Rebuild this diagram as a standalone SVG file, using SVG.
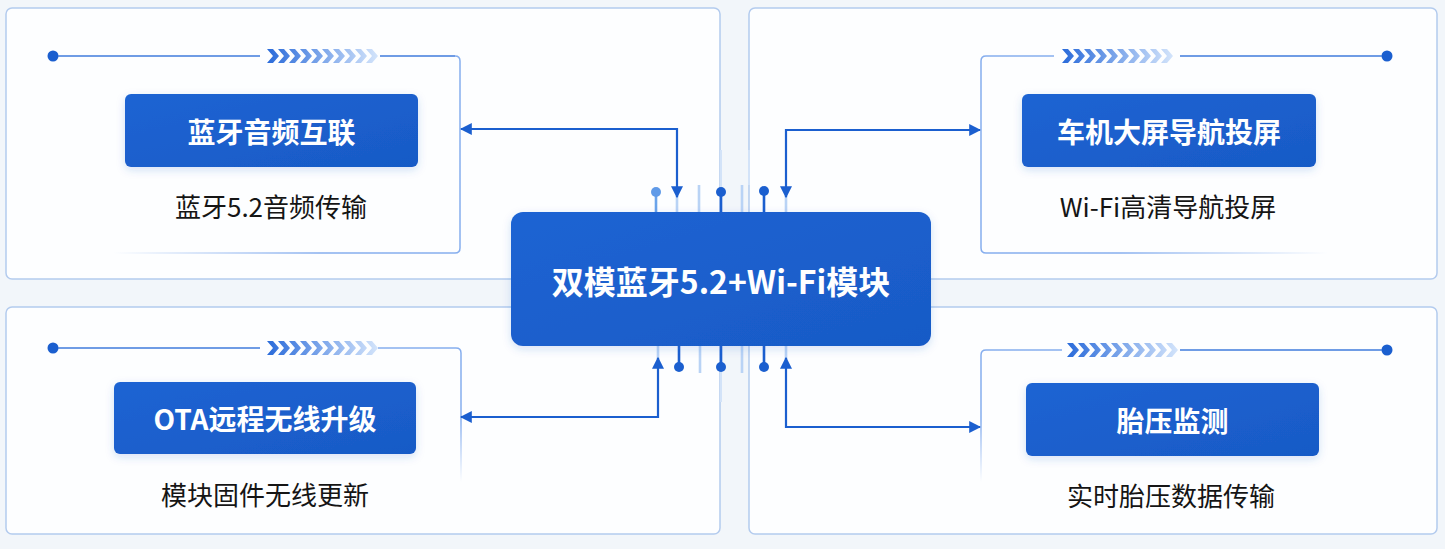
<svg xmlns="http://www.w3.org/2000/svg" xmlns:xlink="http://www.w3.org/1999/xlink" width="1445" height="549" viewBox="0 0 1445 549">
<defs>
<style>
.panel{fill:#fdfeff;stroke:#b3cbee;stroke-width:1.5}
.topline{stroke:#3f7bdd;stroke-width:1.6;fill:none}
.box{fill:url(#boxg)}
.title{font-family:"Noto Sans CJK SC","Noto Sans",sans-serif;font-weight:700;font-size:28px;fill:#ffffff;text-anchor:middle;dominant-baseline:central}
.sub{font-family:"Noto Sans CJK SC","Noto Sans",sans-serif;font-weight:400;font-size:26px;fill:#151515;text-anchor:middle;dominant-baseline:central}
.chip{font-family:"Noto Sans CJK SC","Noto Sans",sans-serif;font-weight:700;font-size:32px;fill:#ffffff;text-anchor:middle;dominant-baseline:central}
.conn{stroke:#1b5fcf;stroke-width:2.2;fill:none;marker-start:url(#arr);marker-end:url(#arr)}
.dot{fill:#1b5fcf}
.stem{stroke:#1b5fcf;stroke-width:2.6}
.faint{stroke:#b9d3f5;stroke-width:2.6}
.vfaint{stroke:#d3e3f8;stroke-width:2}
</style>
<linearGradient id="boxg" x1="0" y1="0" x2="1" y2="1">
<stop offset="0" stop-color="#1e64d3"/>
<stop offset="1" stop-color="#185ac6"/>
</linearGradient>
<linearGradient id="chevg" x1="0" y1="0" x2="1" y2="0">
<stop offset="0" stop-color="#2a6bda"/>
<stop offset="1" stop-color="#d3e4fb"/>
</linearGradient>
<linearGradient id="fadeL" gradientUnits="userSpaceOnUse" x1="113" y1="0" x2="320" y2="0">
<stop offset="0" stop-color="#86aeee" stop-opacity="0"/>
<stop offset="1" stop-color="#86aeee"/>
</linearGradient>
<linearGradient id="fadeR" gradientUnits="userSpaceOnUse" x1="1328" y1="0" x2="1120" y2="0">
<stop offset="0" stop-color="#86aeee" stop-opacity="0"/>
<stop offset="1" stop-color="#86aeee"/>
</linearGradient>
<linearGradient id="fadeD" gradientUnits="userSpaceOnUse" x1="0" y1="482" x2="0" y2="420">
<stop offset="0" stop-color="#86aeee" stop-opacity="0"/>
<stop offset="1" stop-color="#86aeee"/>
</linearGradient>
<path id="chev" fill="url(#chevg)" d="M0,0h6l6,7l-6,7h-6l6,-7zM11,0h6l6,7l-6,7h-6l6,-7zM22,0h6l6,7l-6,7h-6l6,-7zM33,0h6l6,7l-6,7h-6l6,-7zM44,0h6l6,7l-6,7h-6l6,-7zM55,0h6l6,7l-6,7h-6l6,-7zM66,0h6l6,7l-6,7h-6l6,-7zM77,0h6l6,7l-6,7h-6l6,-7zM88,0h6l6,7l-6,7h-6l6,-7zM99,0h6l6,7l-6,7h-6l6,-7z"/>
<marker id="arr" viewBox="0 0 10 10" refX="9" refY="5" markerWidth="12" markerHeight="12" markerUnits="userSpaceOnUse" orient="auto-start-reverse">
<path d="M0,0L10,5L0,10z" fill="#1b5fcf"/>
</marker>
<filter id="sh" x="-10%" y="-20%" width="120%" height="150%">
<feDropShadow dx="0" dy="3" stdDeviation="4" flood-color="#1a5ecb" flood-opacity="0.18"/>
</filter>
</defs>
<rect x="0" y="0" width="1445" height="549" fill="#f2f6fa"/>

<g id="panel-tl">
<rect class="panel" x="6" y="8" width="714" height="271" rx="6"/>
<circle class="dot" cx="53" cy="56" r="5.5"/>
<line class="topline" x1="58" y1="56" x2="260" y2="56"/>
<use xlink:href="#chev" x="267" y="49"/>
<path class="topline" d="M380,56H455" stroke="#6f9be4"/>
<path d="M455,56Q460,56 460,61V248Q460,253 455,253H113" fill="none" stroke="url(#fadeL)" stroke-width="1.5"/>
<rect class="box" x="125" y="94" width="293" height="73" rx="6" filter="url(#sh)"/>
<text class="title" x="271.5" y="131">蓝牙音频互联</text>
<text class="sub" x="271" y="205">蓝牙5.2音频传输</text>
</g>

<g id="panel-tr">
<rect class="panel" x="749" y="8" width="688" height="271" rx="6"/>
<circle class="dot" cx="1387" cy="56" r="5.5"/>
<line class="topline" x1="1180" y1="56" x2="1382" y2="56"/>
<use xlink:href="#chev" x="1062" y="49"/>
<path d="M1054,56H986Q981,56 981,61V248Q981,253 986,253H1328" fill="none" stroke="url(#fadeR)" stroke-width="1.5"/>
<rect class="box" x="1022" y="94" width="294" height="73" rx="6" filter="url(#sh)"/>
<text class="title" x="1169" y="131">车机大屏导航投屏</text>
<text class="sub" x="1168" y="205">Wi-Fi高清导航投屏</text>
</g>

<g id="panel-bl">
<rect class="panel" x="6" y="307" width="714" height="227" rx="6"/>
<circle class="dot" cx="53" cy="348" r="5.5"/>
<line class="topline" x1="58" y1="348" x2="260" y2="348"/>
<use xlink:href="#chev" x="267" y="341"/>
<path d="M378,348H456Q461,348 461,353V482" fill="none" stroke="url(#fadeD)" stroke-width="1.5"/>
<rect class="box" x="114" y="382" width="302" height="72" rx="6" filter="url(#sh)"/>
<text class="title" x="265" y="418">OTA远程无线升级</text>
<text class="sub" x="265" y="493">模块固件无线更新</text>
</g>

<g id="panel-br">
<rect class="panel" x="749" y="307" width="688" height="227" rx="6"/>
<circle class="dot" cx="1387" cy="350" r="5.5"/>
<line class="topline" x1="1180" y1="350" x2="1382" y2="350"/>
<use xlink:href="#chev" x="1067" y="343"/>
<path d="M1062,350H986Q981,350 981,355V482" fill="none" stroke="url(#fadeD)" stroke-width="1.5"/>
<rect class="box" x="1026" y="383" width="293" height="73" rx="6" filter="url(#sh)"/>
<text class="title" x="1172.5" y="420">胎压监测</text>
<text class="sub" x="1171" y="494">实时胎压数据传输</text>
</g>

<g id="pins">
<line class="vfaint" x1="721" y1="150" x2="721" y2="188"/>
<line class="vfaint" x1="749" y1="150" x2="749" y2="185"/>
<line x1="656" y1="192" x2="656" y2="212" stroke="#6aa3ea" stroke-width="2.6"/>
<circle cx="656" cy="192" r="5" fill="#5f9ae8"/>
<line class="faint" x1="677" y1="196" x2="677" y2="212"/>
<line class="faint" x1="699" y1="185" x2="699" y2="212" stroke-width="3"/>
<line class="stem" x1="721" y1="192" x2="721" y2="212"/>
<circle class="dot" cx="721" cy="192" r="5"/>
<line class="faint" x1="742" y1="185" x2="742" y2="212" stroke-width="3"/>
<line class="stem" x1="764" y1="191" x2="764" y2="212"/>
<circle class="dot" cx="764" cy="191" r="5"/>
<line class="faint" x1="786" y1="196" x2="786" y2="212"/>

<line class="faint" x1="658" y1="345" x2="658" y2="359"/>
<line class="stem" x1="679" y1="345" x2="679" y2="367"/>
<circle class="dot" cx="679" cy="367" r="5"/>
<line class="faint" x1="700" y1="345" x2="700" y2="373" stroke-width="3"/>
<line class="vfaint" x1="721" y1="370" x2="721" y2="402"/>
<line class="stem" x1="721" y1="345" x2="721" y2="367"/>
<circle class="dot" cx="721" cy="367" r="5"/>
<line class="faint" x1="742" y1="345" x2="742" y2="373" stroke-width="3"/>
<line class="stem" x1="764" y1="345" x2="764" y2="367"/>
<circle class="dot" cx="764" cy="367" r="5"/>
<line class="faint" x1="786" y1="345" x2="786" y2="359"/>
</g>

<g id="chip-node">
<rect class="box" x="511" y="212" width="420" height="134" rx="12" filter="url(#sh)"/>
<text class="chip" x="721" y="280">双模蓝牙5.2+Wi-Fi模块</text>
</g>

<g id="connectors">
<path class="conn" d="M677,197V129H461"/>
<path class="conn" d="M786,197V130H980"/>
<path class="conn" d="M658,358V417H461"/>
<path class="conn" d="M786,358V427H980"/>
</g>
</svg>
